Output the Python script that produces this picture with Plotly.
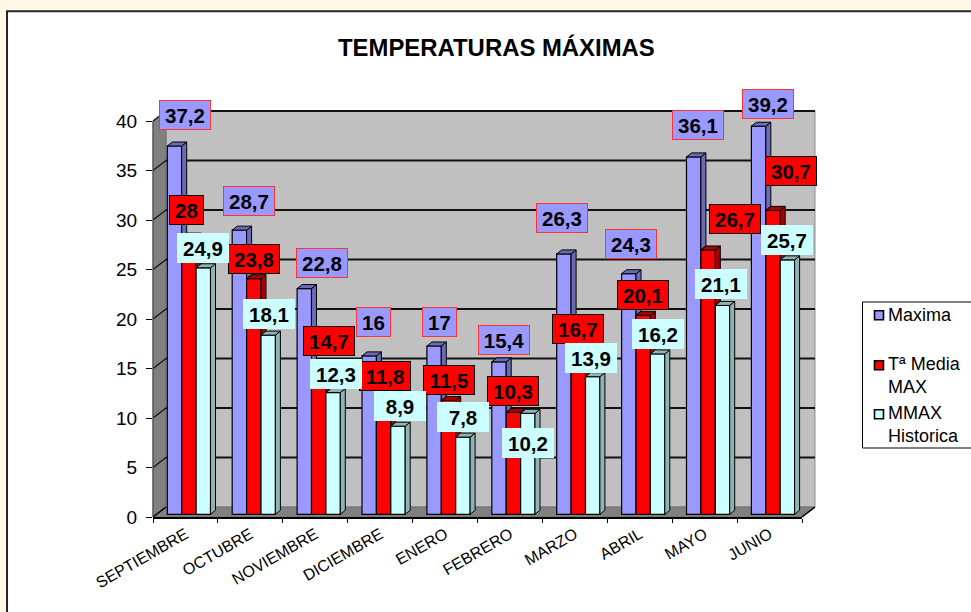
import plotly.graph_objects as go

# ---------- data ----------
MONTHS = ["SEPTIEMBRE", "OCTUBRE", "NOVIEMBRE", "DICIEMBRE", "ENERO",
          "FEBRERO", "MARZO", "ABRIL", "MAYO", "JUNIO"]
MAXIMA = [37.2, 28.7, 22.8, 16, 17, 15.4, 26.3, 24.3, 36.1, 39.2]
MEDIA = [28, 23.8, 14.7, 11.8, 11.5, 10.3, 16.7, 20.1, 26.7, 30.7]
HISTORICA = [24.9, 18.1, 12.3, 8.9, 7.8, 10.2, 13.9, 16.2, 21.1, 25.7]
Y_TICKS = [0, 5, 10, 15, 20, 25, 30, 35, 40]

# label nudges in px relative to the top of each bar (dx, dy up)
MAXIMA_SHIFT = [(10, 31), (9.4, 29), (17.7, 26), (3.8, 34), (4.9, 24),
                (5, 21.5), (-2, 36), (2, 30), (4.3, 32), (9.4, 22)]
MEDIA_SHIFT = [(-2.5, 27), (0, 20), (10, 27.5), (1.4, 21), (.5, 20),
               (0, 21), (0, 20), (0, 20), (27, 31), (18, 39)]
HISTORICA_SHIFT = [(0, 20), (1, 21), (3, 19), (2, 20), (0, 20),
                   (0, -30), (-2, 19), (0, 20), (-1.5, 21), (0, 20)]

# ---------- layout geometry ----------
W, H = 971, 612
L, R, T, B = 153, 802, 120.7, 516.7
PW, PH = R - L, B - T
CAT_PX = PW / 10
UNIT_PX = PH / 40
WALL_DX, WALL_DY = 13 / CAT_PX, 10 / UNIT_PX
BAR_DX, BAR_DY = 5 / CAT_PX, 4 / UNIT_PX
BAR_BASE = 2.7 / UNIT_PX
BAR_W = 14.4 / CAT_PX
BAR_START = 14.3 / CAT_PX

SERIES = [
    ("Maxima", MAXIMA, "#9999ff", "#6b6bb3", MAXIMA_SHIFT, "#ff3333"),
    ("Tª Media MAX", MEDIA, "#ff0000", "#a80000", MEDIA_SHIFT, "#000000"),
    ("MMAX Historica", HISTORICA, "#ccffff", "#8fb3b3", HISTORICA_SHIFT, "#ccffff"),
]


def fmt(v):
    return str(v).replace(".", ",")


def px(xpix):
    return (xpix - L) / PW


def py(ypix):
    return (B - ypix) / PH


def dx(x):  # data x -> paper
    return x / 10


def dy(y):  # data y -> paper
    return y / 40


fig = go.Figure()
shapes = []
annotations = []


def poly(points):
    return "M" + "L".join(f"{a:.5f},{b:.5f}" for a, b in points) + "Z"


def paper_shape(path, fill, line="rgba(0,0,0,0)", width=1):
    shapes.append(dict(type="path", xref="paper", yref="paper", path=path,
                       fillcolor=fill, line=dict(color=line, width=width), layer="below"))


def paper_line(x0, y0, x1, y1, width=1.5, color="#000000"):
    shapes.append(dict(type="line", xref="paper", yref="paper", x0=x0, y0=y0, x1=x1, y1=y1,
                       line=dict(color=color, width=width), layer="below"))


# page frame
shapes.append(dict(type="rect", xref="paper", yref="paper", x0=px(7), x1=px(990),
                   y0=py(11), y1=py(630), fillcolor="#ffffff",
                   line=dict(color="#262626", width=2), layer="below"))

# walls
wx, wy = dx(WALL_DX), dy(WALL_DY)
paper_shape(poly([(wx, wy), (1 + wx, wy), (1 + wx, 1 + wy), (wx, 1 + wy)]), "#c0c0c0", "#8c8c8c", 1)
paper_shape(poly([(0, 0), (wx, wy), (wx, 1 + wy), (0, 1)]), "#808080", "#707070", 1)
paper_shape(poly([(0, 0), (1, 0), (1 + wx, wy), (wx, wy)]), "#808080", "#707070", 1)

# grid lines on wall with diagonals on the side wall
for t in Y_TICKS[1:]:
    paper_line(wx, dy(t) + wy, 1 + wx, dy(t) + wy, 2, "#111111")
    paper_line(0, dy(t), wx, dy(t) + wy, 1.2, "#111111")
paper_line(0, 0, wx, wy, 1.5)
paper_line(1, 0, 1 + wx, wy, 1.5)
paper_line(0, 0, 0, 1, 1.2, "#555555")

# bars
for s, (name, vals, col, side, shifts, border) in enumerate(SERIES):
    xs = [i + BAR_START + (s + .5) * BAR_W for i in range(10)]
    fig.add_trace(go.Bar(x=xs, y=vals, base=BAR_BASE, width=BAR_W, name=name,
                         marker=dict(color=col, line=dict(color="#000000", width=1.2)),
                         showlegend=False, cliponaxis=False))
    # 3-D faces computed from the same data
    for i, v in enumerate(vals):
        x0 = i + BAR_START + s * BAR_W
        x1 = x0 + BAR_W
        top = BAR_BASE + v
        low = BAR_BASE
        if s < 2:
            low = BAR_BASE + SERIES[s + 1][1][i]
        sx = [x1, x1, x1 + BAR_DX, x1 + BAR_DX, x1]
        sy = [low, top, top + BAR_DY, low + BAR_DY, low]
        fig.add_trace(go.Scatter(x=sx, y=sy, mode="lines", fill="toself", fillcolor=side,
                                 line=dict(color="#000000", width=1), hoverinfo="skip",
                                 showlegend=False, cliponaxis=False))
        tx = [x0, x1, x1 + BAR_DX, x0 + BAR_DX, x0]
        ty = [top, top, top + BAR_DY, top + BAR_DY, top]
        fig.add_trace(go.Scatter(x=tx, y=ty, mode="lines", fill="toself", fillcolor=side,
                                 line=dict(color="#000000", width=1), hoverinfo="skip",
                                 showlegend=False, cliponaxis=False))
        annotations.append(dict(
            x=x0 + BAR_W / 2, y=top, xref="x", yref="y", xshift=shifts[i][0], yshift=shifts[i][1],
            text=f"<b>{fmt(v)}</b>", showarrow=False, xanchor="center", yanchor="middle",
            font=dict(family="Liberation Sans", size=20.5, color="#000000"),
            bgcolor=col, bordercolor=border, borderwidth=1, borderpad=0,
            width=50 if len(fmt(v)) > 2 else 33, height=28, align="center", valign="middle"))

# title
annotations.append(dict(x=px(496), y=py(47), xref="paper", yref="paper", showarrow=False,
                        text="<b>TEMPERATURAS MÁXIMAS</b>", xanchor="center", yanchor="middle",
                        font=dict(family="Liberation Sans", size=23.9, color="#000000")))

# legend
shapes.append(dict(type="rect", xref="paper", yref="paper", x0=px(862.5), x1=px(990),
                   y0=py(301.7), y1=py(447.7), fillcolor="#ffffff",
                   line=dict(color="#000000", width=1), layer="below"))
LEGEND_ITEMS = [("Maxima", 315, 315), ("Tª Media<br>MAX", 375, 365), ("MMAX<br>Historica", 424.5, 414)]
for (text, ymid, yswatch), (_, _, col, _, _, _) in zip(LEGEND_ITEMS, SERIES):
    annotations.append(dict(x=px(885.5), y=py(ymid), xref="paper", yref="paper", showarrow=False,
                            text=text, xanchor="left", yanchor="middle", align="left",
                            font=dict(family="Liberation Sans", size=18, color="#000000")))
    shapes.append(dict(type="rect", xref="paper", yref="paper", x0=px(874.5), x1=px(883.5),
                       y0=py(yswatch - 4.5), y1=py(yswatch + 4.5), fillcolor=col,
                       line=dict(color="#000000", width=1.6), layer="below"))

fig.update_layout(
    width=W, height=H, autosize=False,
    margin=dict(l=L, r=W - R, t=T, b=H - B, pad=0),
    paper_bgcolor="#fff8e6", plot_bgcolor="rgba(0,0,0,0)",
    showlegend=False, barmode="overlay", shapes=shapes, annotations=annotations,
    xaxis=dict(range=[0, 10], tickmode="array", tickvals=[i + .5 for i in range(10)],
               ticktext=MONTHS, tickangle=-30, ticks="", showgrid=False, zeroline=False,
               showline=True, linecolor="#000000", linewidth=2,
               tickfont=dict(family="Liberation Sans", size=16, color="#000000"),
               minor=dict(tickmode="array", tickvals=list(range(11)), ticks="outside",
                          ticklen=4, tickcolor="#000000", tickwidth=1.2, showgrid=False),
               automargin=False),
    yaxis=dict(range=[0, 40], tickmode="array", tickvals=Y_TICKS, ticks="outside",
               ticklen=6, tickcolor="#000000", tickwidth=1.2, showgrid=False, zeroline=False,
               showline=False, ticklabelstandoff=5,
               tickfont=dict(family="Liberation Sans", size=19, color="#000000"),
               automargin=False),
)

fig.write_html("out.html", config=dict(displayModeBar=False), post_script=
               "document.body.style.margin='0';document.documentElement.style.overflow='hidden';")
